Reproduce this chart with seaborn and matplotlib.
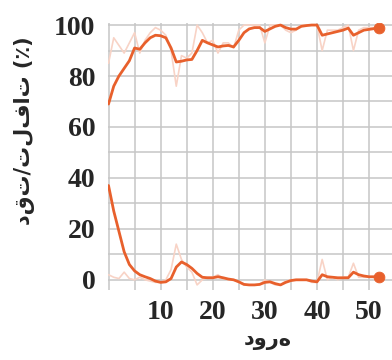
import numpy as np
import pandas as pd
import matplotlib
matplotlib.use("Agg")
import matplotlib.pyplot as plt
import seaborn as sns
from matplotlib.ticker import MultipleLocator, FixedLocator

epochs = list(range(0, 53))
acc_smooth = [69, 76, 80, 83, 86, 91, 90.5, 93, 95, 96, 95.8, 95, 91, 85.5, 85.8, 86.3,
              86.5, 90, 94, 93, 92.2, 91.4, 91.8, 92, 91.4, 94, 97, 98.5, 99, 99,
              97.5, 98.5, 99.5, 100, 99, 98.4, 98.4, 99.5, 99.8, 100, 100, 96, 96.5,
              97, 97.5, 98, 98.8, 96, 97, 98, 98.3, 98.6, 98.8]
acc_raw = [85, 95, 92, 89, 93, 97, 89, 94, 97, 99, 98, 96, 90, 76, 88, 87, 89, 100,
           97, 93, 94, 89, 93, 93, 91, 98, 100, 100, 100, 100, 93, 100, 100, 100, 98,
           97, 98, 100, 100, 100, 100, 90, 98, 98, 98, 99, 100, 90, 98, 99, 99, 99, 99]
loss_smooth = [37, 27, 19, 11, 6, 3.5, 2, 1.2, 0.5, -0.5, -1, -0.8, 0.5, 5, 7, 6, 4.5,
               2.5, 1, 0.8, 0.8, 1.2, 0.8, 0.3, 0, -0.8, -1.8, -2, -2, -1.8, -1, -0.8,
               -1.5, -2, -1, -0.3, 0, 0, 0, -0.5, -0.8, 2, 1.2, 1, 0.8, 0.8, 0.8, 3, 2,
               1.5, 1.2, 1.2, 1.2]
loss_raw = [2, 1, 0.5, 3, 0.5, 0, 1, 0, -0.5, -1, -1, 0, 4, 14, 8, 5, 3, -2, 0, 1, 1,
            2, 0.5, 0, 0, -1, -2, -2, -2, -2, 0, -1, -2, -2, -0.5, 0, 0, 0, 0, -1, -1,
            8, 0, 1, 0, 1, 1, 6.5, 1, 1, 1, 1, 1]
x_ticks = [10, 20, 30, 40, 50]
y_ticks = [0, 20, 40, 60, 80, 100]

df = pd.DataFrame({"epoch": epochs, "acc_s": acc_smooth, "acc_r": acc_raw,
                   "loss_s": loss_smooth, "loss_r": loss_raw})

sns.set_style("white")
plt.rcParams['font.family'] = ['DejaVu Sans']

fig = plt.figure(figsize=(3.92, 3.6), dpi=100)
ax = fig.add_axes([108 / 392, 1 - 290 / 360, 1 - 108 / 392, (290 - 22.5) / 360])

main = "#e8602c"
faint = "#f8d3c6"

sns.lineplot(data=df, x="epoch", y="acc_r", ax=ax, color=faint, lw=1.2)
sns.lineplot(data=df, x="epoch", y="loss_r", ax=ax, color=faint, lw=1.2)
sns.lineplot(data=df, x="epoch", y="acc_s", ax=ax, color=main, lw=2.0)
sns.lineplot(data=df, x="epoch", y="loss_s", ax=ax, color=main, lw=2.0)
last = df.iloc[[-1]]
sns.scatterplot(data=last, x="epoch", y="acc_s", ax=ax, color=main, s=60, edgecolor=main, zorder=5)
sns.scatterplot(data=last, x="epoch", y="loss_s", ax=ax, color=main, s=60, edgecolor=main, zorder=5)

ax.set_xlim(-0.1, 54.4)
ax.set_ylim(-4, 101)
ax.xaxis.set_major_locator(FixedLocator(x_ticks))
ax.yaxis.set_major_locator(FixedLocator(y_ticks))
ax.xaxis.set_minor_locator(MultipleLocator(5))
ax.yaxis.set_minor_locator(MultipleLocator(10))
ax.grid(which="minor", color="#c6c6c6", lw=1.1)
ax.grid(which="major", color="#c6c6c6", lw=1.1)
ax.set_axisbelow(True)
for s in ax.spines.values():
    s.set_visible(False)
ax.tick_params(which="both", length=0)
ax.tick_params(axis="y", pad=9)
ax.tick_params(axis="x", pad=7)
for lab in ax.get_xticklabels() + ax.get_yticklabels():
    lab.set_fontfamily("Liberation Serif")
    lab.set_fontweight("bold")
    lab.set_fontsize(20)

ax.set_xlabel("دوره", fontsize=15, fontweight="bold")
ax.set_ylabel("دقت/تلفات (٪)", fontsize=15, fontweight="bold")
ax.xaxis.set_label_coords((268 - 108) / 284, -(340 - 290) / 267.5)
ax.yaxis.set_label_coords(-(108 - 25) / 284, (290 - 131) / 267.5)
ax.xaxis.label.set_va("center")
ax.yaxis.label.set_va("center")

fig.savefig("out.png", dpi=100)
